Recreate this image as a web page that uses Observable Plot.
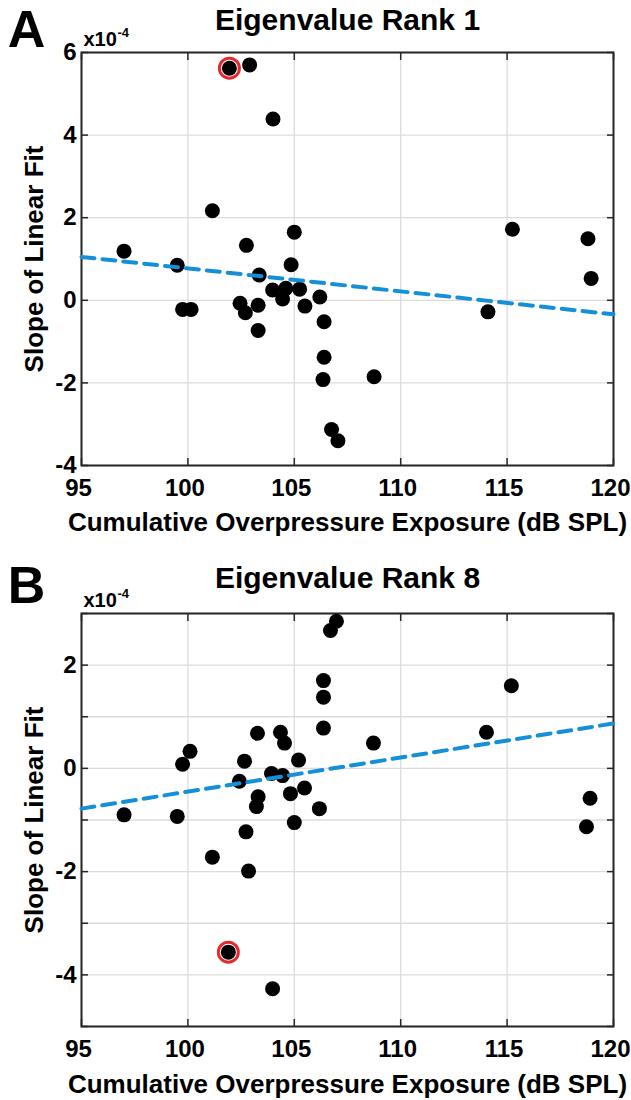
<!DOCTYPE html>
<html>
<head>
<meta charset="utf-8">
<script src="https://cdn.jsdelivr.net/npm/d3@7"></script>
<script src="https://cdn.jsdelivr.net/npm/@observablehq/plot@0.6"></script>
<style>
  html, body { margin: 0; padding: 0; background: #fff; }
  #chart { width: 631px; }
  #chart svg { display: block; }
</style>
</head>
<body>
<div id="chart"></div>
<script>
// ---------- data (slopes in units of 1e-4) ----------
const exposureA = [97.0, 99.5, 99.75, 100.15, 101.15, 101.95, 102.9, 102.45, 102.7, 102.75, 103.3, 103.3, 103.35, 104.0, 103.98, 104.45, 104.6, 104.85, 105.0, 105.25, 105.5, 106.2, 106.4, 106.4, 106.35, 106.75, 107.05, 108.75, 114.1, 115.25, 118.8, 118.95];
const slopeA    = [1.19, 0.85, -0.22, -0.22, 2.17, 5.62, 5.70, -0.07, -0.30, 1.33, -0.12, -0.73, 0.61, 4.39, 0.25, 0.03, 0.29, 0.86, 1.65, 0.27, -0.14, 0.08, -0.52, -1.38, -1.92, -3.13, -3.40, -1.85, -0.28, 1.72, 1.49, 0.53];
const highlightA = 5;

const exposureB = [97.0, 99.5, 99.75, 100.1, 101.15, 101.9, 102.42, 102.66, 102.73, 102.85, 103.27, 103.3, 103.22, 103.93, 103.98, 104.35, 104.45, 104.54, 104.82, 105.0, 105.2, 105.48, 106.18, 106.37, 106.37, 106.37, 106.7, 106.98, 108.72, 114.03, 115.2, 118.73, 118.9];
const slopeB    = [-0.90, -0.93, 0.08, 0.33, -1.72, -3.56, -0.25, 0.14, -1.23, -1.99, 0.68, -0.55, -0.74, -0.10, -4.27, 0.70, -0.14, 0.49, -0.49, -1.05, 0.16, -0.38, -0.78, 1.70, 1.38, 0.78, 2.67, 2.85, 0.49, 0.70, 1.60, -1.13, -0.58];
const highlightB = 5;

const fitX  = [95, 120];
const fitA  = [1.05, -0.34];
const fitB  = [-0.78, 0.87];

const xTicks   = [95, 100, 105, 110, 115, 120];
const yTicksA  = [-4, -2, 0, 2, 4, 6];
const yLabelsA = [-4, -2, 0, 2, 4, 6];
const yTicksB  = [-5, -4, -3, -2, -1, 0, 1, 2, 3];
const yLabelsB = [-4, -2, 0, 2];

const titles   = ["Eigenvalue Rank 1", "Eigenvalue Rank 8"];
const letters  = ["A", "B"];
const xLabel   = "Cumulative Overpressure Exposure (dB SPL)";
const yLabel   = "Slope of Linear Fit";
const expBase  = "x10";
const expPow   = "-4";

// ---------- style ----------
const FONT = "'Liberation Sans', Arial, Helvetica, sans-serif";
const BLUE = "#1590d8";
const RED  = "#e52a2f";
const GRID = "#dcdcdc";

function panel(o) {
  const pts = o.xs.map((x, i) => ({x, y: o.ys[i]}));
  const fit = fitX.map((x, i) => ({x, y: o.fit[i]}));
  const empty = () => "";
  return Plot.plot({
    width: 631,
    height: o.height,
    marginTop: o.marginTop,
    marginBottom: o.marginBottom,
    marginLeft: 81,
    marginRight: 18,
    style: {fontFamily: FONT, color: "#000", background: "#fff", overflow: "visible"},
    x: {domain: [95, 120]},
    y: {domain: o.yDomain},
    marks: [
      Plot.gridX(xTicks, {stroke: GRID, strokeOpacity: 1, strokeWidth: 1.3}),
      Plot.gridY(o.yTicks, {stroke: GRID, strokeOpacity: 1, strokeWidth: 1.3}),
      Plot.axisX(xTicks, {anchor: "bottom", tickSize: 0, tickPadding: 13, dx: -3, fontSize: 24, fontWeight: "bold", tickFormat: d => String(d), label: null}),
      Plot.axisX(xTicks, {anchor: "bottom", tickSize: -7, tickFormat: empty, label: null, stroke: "#262626", strokeWidth: 1.5}),
      Plot.axisX(xTicks, {anchor: "top", tickSize: -7, tickFormat: empty, label: null, stroke: "#262626", strokeWidth: 1.5}),
      Plot.axisY(o.yLabels, {anchor: "left", tickSize: 0, tickPadding: 5, fontSize: 24, fontWeight: "bold", tickFormat: d => String(d), label: null}),
      Plot.axisY(o.yTicks, {anchor: "left", tickSize: -7, tickFormat: empty, label: null, stroke: "#262626", strokeWidth: 1.5}),
      Plot.axisY(o.yTicks, {anchor: "right", tickSize: -7, tickFormat: empty, label: null, stroke: "#262626", strokeWidth: 1.5}),
      Plot.frame({stroke: "#262626", strokeWidth: 2}),
      Plot.dot(pts, {x: "x", y: "y", r: 7.5, fill: "#000"}),
      Plot.line(fit, {x: "x", y: "y", stroke: BLUE, strokeWidth: 4, strokeDasharray: "13,8"}),
      Plot.dot([pts[o.hi]], {x: "x", y: "y", r: 10, stroke: RED, strokeWidth: 3, fill: "none"}),
      Plot.text([o.title], {text: d => d, frameAnchor: "top", dy: o.titleDy, fontSize: 30, fontWeight: "bold", textAnchor: "middle", lineAnchor: "middle"}),
      Plot.text([o.letter], {text: d => d, frameAnchor: "top-left", dx: -55, dy: o.letterDy, fontSize: 52, fontWeight: "bold", textAnchor: "middle", lineAnchor: "middle"}),
      Plot.text([expBase], {text: d => d, frameAnchor: "top-left", dx: 2, dy: -13, fontSize: 20, fontWeight: "bold", textAnchor: "start", lineAnchor: "middle"}),
      Plot.text([expPow], {text: d => d, frameAnchor: "top-left", dx: 36, dy: -20, fontSize: 13, fontWeight: "bold", textAnchor: "start", lineAnchor: "middle"}),
      Plot.text([yLabel], {text: d => d, frameAnchor: "left", dx: -47, rotate: -90, fontSize: 26, fontWeight: "bold", textAnchor: "middle", lineAnchor: "middle"}),
      Plot.text([xLabel], {text: d => d, frameAnchor: "bottom", dy: o.xLabelDy, fontSize: 26, fontWeight: "bold", textAnchor: "middle", lineAnchor: "middle"})
    ]
  });
}

const chart = document.getElementById("chart");
chart.append(panel({
  xs: exposureA, ys: slopeA, hi: highlightA, fit: fitA,
  yDomain: [-4, 6], yTicks: yTicksA, yLabels: yLabelsA,
  height: 545, marginTop: 52, marginBottom: 80,
  title: titles[0], letter: letters[0],
  titleDy: -32, letterDy: -22, xLabelDy: 57
}));
chart.append(panel({
  xs: exposureB, ys: slopeB, hi: highlightB, fit: fitB,
  yDomain: [-5, 3], yTicks: yTicksB, yLabels: yLabelsB,
  height: 555, marginTop: 68, marginBottom: 74,
  title: titles[1], letter: letters[1],
  titleDy: -35, letterDy: -27, xLabelDy: 58
}));
</script>
</body>
</html>
